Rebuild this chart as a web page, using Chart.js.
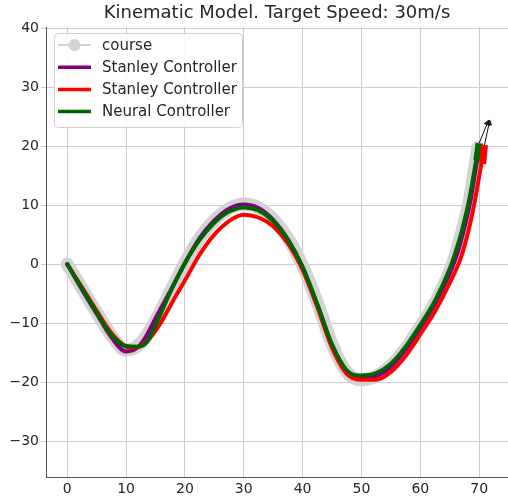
<!DOCTYPE html>
<html>
<head>
<meta charset="utf-8">
<script src="https://cdn.jsdelivr.net/npm/chart.js@4.4.1/dist/chart.umd.min.js"></script>
<style>
  html, body { margin: 0; padding: 0; background: #fff; }
  #wrap { width: 508px; height: 500px; }
</style>
</head>
<body>
<div id="wrap"><canvas id="chart" width="508" height="500"></canvas></div>
<script>
// reference course
const courseX = [0, 2.5, 5, 7.5, 10, 12.5, 15, 17.5, 20, 22.5, 25, 27.5, 30, 32.5, 35, 37.5, 40, 42.5, 45, 47.5, 50, 52.5, 55, 57.5, 60, 62.5, 65, 66.2, 67.1, 68.4, 69.3, 69.8];
const courseY = [0, -4.1, -8.2, -12.1, -14.6, -13.4, -9.6, -4.7, 0.2, 4.4, 7.4, 9.4, 10.2, 9.6, 7.6, 4.4, -0.3, -6.5, -13.6, -18.3, -19.6, -19.0, -17.2, -14.3, -10.6, -6.5, -1.2, 2.4, 5.6, 11.2, 16.8, 19.8];

// stanley run 1 (purple)
const stanley1X = [0, 2.5, 5, 7.5, 10, 12, 13.5, 15, 17.5, 20, 22.5, 25, 27.5, 30, 32.5, 35, 37.5, 40, 42.5, 45, 47.5, 50, 52.5, 55, 57.5, 60, 62.5, 65, 66.3, 67.2, 68.5, 69.4, 69.9];
const stanley1Y = [0, -4.3, -8.4, -12.4, -14.8, -14.1, -12.1, -9.2, -4.6, 0.2, 4.4, 7.4, 9.4, 10.1, 9.5, 7.5, 4.2, -0.5, -6.9, -13.8, -18.4, -19.3, -19.0, -17.4, -14.5, -10.8, -6.7, -1.6, 1.8, 5.0, 10.6, 16.0, 19.0];

// stanley run 2 (red)
const stanley2X = [0, 2.5, 5, 7.5, 10, 11, 12.5, 14, 16, 18, 20, 22.5, 25, 27.5, 30, 32.5, 35, 37.5, 40, 42.5, 45, 47.5, 50, 52.5, 55, 57.5, 60, 62.5, 65, 67, 68.5, 69.4, 70.4, 70.7];
const stanley2Y = [0, -3.9, -7.9, -11.7, -14.0, -14.2, -13.9, -12.6, -9.8, -6.2, -2.8, 1.6, 5.0, 7.3, 8.35, 7.9, 6.4, 3.5, -1.0, -7.3, -14.2, -18.6, -19.6, -19.6, -18.3, -15.6, -11.9, -8.0, -3.2, 1.4, 7.0, 11.4, 17.1, 18.5];

// neural controller (green)
const neuralX = [0, 2.5, 5, 7.5, 10, 12, 13.5, 14.5, 15.5, 17.5, 20, 22.5, 25, 27.5, 30, 32.5, 35, 37.5, 40, 42.5, 45, 47.5, 50, 52.5, 55, 57.5, 60, 62.5, 65, 66.2, 67.1, 68.4, 69.4, 69.8];
const neuralY = [0, -4.1, -8.2, -12.0, -13.9, -14.0, -13.3, -11.5, -9.3, -4.8, 0.1, 4.1, 7.0, 8.9, 9.6, 9.1, 7.3, 4.1, -0.5, -6.8, -13.6, -18.0, -18.9, -18.5, -16.9, -14.0, -10.3, -6.2, -0.8, 2.7, 5.8, 11.4, 17.1, 19.3];

// vehicle markers at the end: [x0, y0, x1, y1]
const neuralCar = [69.6, 17.6, 70.0, 20.5];
const stanleyCar = [70.6, 17.0, 70.9, 20.2];
// heading arrows: [x0, y0, x1, y1]
const neuralArrow = [70.0, 20.5, 71.4, 23.9];
const stanleyArrow = [70.9, 20.2, 71.7, 23.9];

const xTicks = [0, 10, 20, 30, 40, 50, 60, 70];
const yTicks = [-30, -20, -10, 0, 10, 20, 30, 40];

const titleText = 'Kinematic Model. Target Speed: 30m/s';

const toPts = (xs, ys) => xs.map((x, i) => ({ x, y: ys[i] }));
const seg = (s) => [{ x: s[0], y: s[1] }, { x: s[2], y: s[3] }];

const FONT = 'DejaVu Sans';
const TEXT = '#262626';

const lineDs = (label, data, color, width, order) => ({
  label,
  data,
  borderColor: color,
  backgroundColor: color,
  borderWidth: width,
  pointRadius: 0,
  cubicInterpolationMode: 'monotone',
  borderCapStyle: 'round',
  borderJoinStyle: 'round',
  fill: false,
  order,
});

const arrowAngle = (a) => {
  const dx = (a[2] - a[0]) * 5.88, dy = (a[3] - a[1]) * 5.9;
  return Math.atan2(dx, dy) * 180 / Math.PI;
};

const arrowDs = (a) => ({
  label: '',
  data: seg(a),
  borderColor: '#111111',
  backgroundColor: '#1d2b3a',
  borderWidth: 1,
  pointRadius: [0, 3],
  pointStyle: 'triangle',
  rotation: arrowAngle(a),
  order: 0,
  legendSkip: true,
});

const carDs = (s, color) => ({
  label: '',
  data: seg(s),
  borderColor: color,
  borderWidth: 7,
  borderCapStyle: 'butt',
  pointRadius: 0,
  order: 0,
  legendSkip: true,
});

// title centred over the plot area
const plotTitle = {
  id: 'plotTitle',
  afterDraw(chart) {
    const { ctx, chartArea } = chart;
    ctx.save();
    ctx.font = '18px "' + FONT + '"';
    ctx.fillStyle = TEXT;
    ctx.textAlign = 'center';
    ctx.textBaseline = 'middle';
    ctx.fillText(titleText, (chartArea.left + chartArea.right) / 2, 13);
    ctx.restore();
  },
};

// legend drawn inside the plot, matplotlib style
const boxLegend = {
  id: 'boxLegend',
  afterDatasetsDraw(chart) {
    const ctx = chart.ctx;
    const items = chart.data.datasets.filter(d => !d.legendSkip);
    const x0 = 54, y0 = 33, w = 188, h = 94, r = 4;
    ctx.save();
    ctx.beginPath();
    ctx.roundRect(x0 + 0.5, y0 + 0.5, w, h, r);
    ctx.fillStyle = 'rgba(255,255,255,0.85)';
    ctx.fill();
    ctx.strokeStyle = '#d0d0d0';
    ctx.lineWidth = 1;
    ctx.stroke();
    ctx.font = '15px "' + FONT + '"';
    ctx.textBaseline = 'middle';
    ctx.fillStyle = TEXT;
    items.forEach((d, i) => {
      const cy = 45 + i * 22.2;
      ctx.beginPath();
      ctx.moveTo(58, cy);
      ctx.lineTo(91, cy);
      ctx.strokeStyle = d.borderColor;
      ctx.lineWidth = d.legendWidth || 3.5;
      ctx.lineCap = 'butt';
      ctx.stroke();
      if (d.legendMarker) {
        ctx.beginPath();
        ctx.arc(74.5, cy, 6, 0, Math.PI * 2);
        ctx.fillStyle = d.borderColor;
        ctx.fill();
        ctx.fillStyle = TEXT;
      }
      ctx.fillText(d.label, 102, cy + 1);
    });
    ctx.restore();
  },
};

const course = lineDs('course', toPts(courseX, courseY), '#d3d3d3', 13, 5);
course.legendWidth = 2;
course.legendMarker = true;

new Chart(document.getElementById('chart'), {
  type: 'line',
  data: {
    datasets: [
      course,
      lineDs('Stanley Controller', toPts(stanley1X, stanley1Y), '#800080', 4, 4),
      lineDs('Stanley Controller', toPts(stanley2X, stanley2Y), '#ff0000', 4, 3),
      lineDs('Neural Controller', toPts(neuralX, neuralY), '#006400', 4, 2),
      carDs(stanleyCar, '#ff0000'),
      carDs(neuralCar, '#006400'),
      arrowDs(neuralArrow),
      arrowDs(stanleyArrow),
    ],
  },
  options: {
    responsive: false,
    animation: false,
    layout: { autoPadding: false, padding: { left: 0, right: 0, top: 27, bottom: 0 } },
    plugins: {
      legend: { display: false },
      tooltip: { enabled: false },
      title: { display: false },
    },
    scales: {
      x: {
        type: 'linear',
        min: -3.6,
        max: 74.9,
        afterBuildTicks: (s) => { s.ticks = xTicks.map(v => ({ value: v })); },
        afterFit: (s) => { s.height = 23; s.paddingLeft = 0; s.paddingRight = 0; },
        ticks: {
          color: TEXT,
          font: { family: FONT, size: 14 },
          padding: 4,
          maxRotation: 0,
        },
        grid: { color: '#cccccc', lineWidth: 1, drawTicks: false },
        border: { color: '#555555', width: 1 },
      },
      y: {
        type: 'linear',
        min: -36.1,
        max: 40.2,
        afterBuildTicks: (s) => { s.ticks = yTicks.map(v => ({ value: v })); },
        afterFit: (s) => { s.width = 46; s.paddingTop = 0; s.paddingBottom = 0; },
        ticks: {
          color: TEXT,
          font: { family: FONT, size: 14 },
          padding: 2,
          callback: (v) => String(v).replace('-', '\u2212'),
        },
        grid: { color: '#cccccc', lineWidth: 1, tickLength: 5 },
        border: { color: '#555555', width: 1 },
      },
    },
  },
  plugins: [boxLegend, plotTitle],
});
</script>
</body>
</html>
